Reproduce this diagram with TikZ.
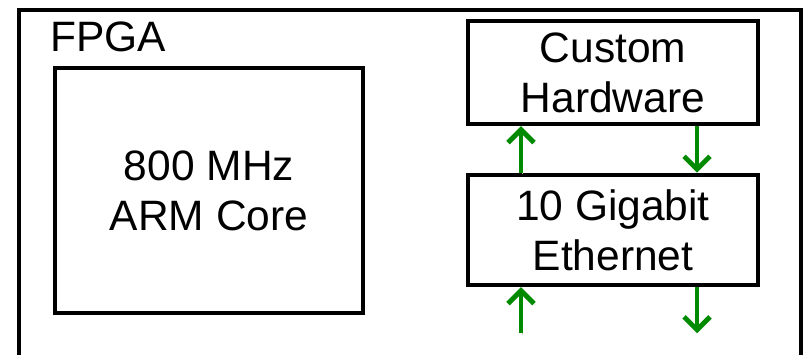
\documentclass[tikz,border=0pt]{standalone}
\usepackage{fontspec}
\setmainfont{Liberation Sans}
\usetikzlibrary{arrows.meta,positioning,calc}
\definecolor{leaf}{RGB}{0,138,0}
\definecolor{ink}{RGB}{0,0,0}
\tikzset{
  x=1pt,y=1pt,
  frame/.style={draw=ink,line width=4.5pt},
  block/.style={draw=ink,line width=4.5pt,align=center,inner sep=0pt,
    font=\fontsize{42.5}{50}\selectfont},
  flow/.style={-{Straight Barb[length=13pt,width=26pt,line width=4.8pt]},
    line width=4.8pt,draw=#1,
    preaction={draw=black!18,transform canvas={shift={(1.5pt,-1.5pt)}}}},
  flow/.default=leaf,
}
\begin{document}
\begin{tikzpicture}
  \useasboundingbox (0,0) rectangle (804,355);
  \draw[frame] (19,-1.95) rectangle (801,345);
  \node[anchor=base west,inner sep=0pt,font=\fontsize{42.5}{50}\selectfont] (fpga) at (50,303) {FPGA};
  \node[block,minimum width=308pt,minimum height=245pt] (arm) at (209,164.5) {800 MHz\\ARM Core};
  \node[block,minimum width=290pt,minimum height=103pt] (custom) at (613,282.5) {Custom\\Hardware};
  \node[block,minimum width=290pt,minimum height=110pt] (ether) at (613,125) {10 Gigabit\\Ethernet};
  % links between the two right blocks
  \draw[flow] ([xshift=-92pt]ether.north) -- ([xshift=-92pt]custom.south);
  \draw[flow] ([xshift=84pt]custom.south) -- ([xshift=84pt]ether.north);
  % links leaving the chip
  \coordinate (rx) at ([shift={(-92pt,-46pt)}]ether.south);
  \coordinate (tx) at ([shift={(84pt,-46pt)}]ether.south);
  \draw[flow] (rx) -- ([xshift=-92pt]ether.south);
  \draw[flow] ([xshift=84pt]ether.south) -- (tx);
\end{tikzpicture}
\end{document}
